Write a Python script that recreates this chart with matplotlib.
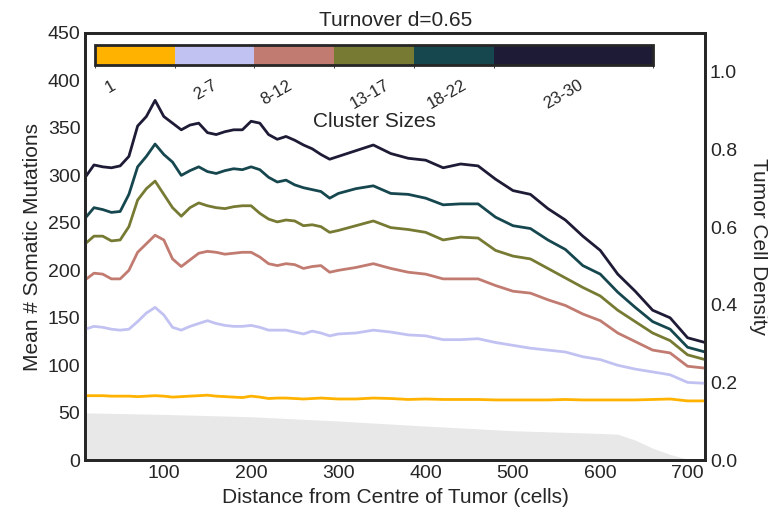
import matplotlib
matplotlib.use("Agg")
import matplotlib.pyplot as plt
import seaborn as sns
import numpy as np
from matplotlib.colors import ListedColormap, BoundaryNorm
from matplotlib.cm import ScalarMappable

sns.set_style("white")
plt.rcParams['font.family'] = ['Liberation Sans', 'DejaVu Sans']
plt.rcParams['text.color'] = '#262626'
plt.rcParams['axes.labelcolor'] = '#262626'
plt.rcParams['xtick.color'] = '#262626'
plt.rcParams['ytick.color'] = '#262626'

# distance from the centre (cells)
distance = [10, 20, 30, 40, 50, 60, 70, 80, 90, 100, 110, 120, 130, 140, 150,
            160, 170, 180, 190, 200, 210, 220, 230, 240, 250, 260, 270, 280, 290, 300,
            320, 340, 360, 380, 400, 420, 440, 460, 480, 500, 520, 540, 560, 580, 600,
            620, 640, 660, 680, 700, 720]

# mean number of somatic mutations per cluster size group
size_1 = [68, 68, 68, 67.5, 67.5, 67.5, 67, 67.5, 68, 67.5, 66.5, 67, 67.5, 68, 68.5,
          67.5, 67, 66.5, 66, 67.5, 66.5, 65, 65.5, 65.5, 65, 64.5, 65, 65.5, 65, 64.5,
          64.5, 65.5, 65, 64, 64.5, 64, 64, 64, 63.5, 63.5, 63.5, 63.5, 64, 63.5, 63.5,
          63.5, 63.5, 64, 64.5, 62.5, 62.5]
size_2_7 = [138, 141, 140, 138, 137, 138, 146, 155, 161, 153, 140, 137, 141, 144, 147,
            144, 142, 141, 141, 142, 140, 137, 137, 137, 135, 133, 136, 134, 131, 133,
            134, 137, 135, 132, 131, 127, 127, 128, 124, 121, 118, 116, 114, 109, 106,
            100, 96, 93, 90, 82, 81]
size_8_12 = [190, 197, 196, 191, 191, 200, 219, 228, 237, 232, 212, 204, 211, 218, 220,
             219, 217, 218, 219, 219, 214, 207, 205, 207, 206, 202, 204, 205, 198, 200,
             203, 207, 202, 198, 196, 191, 191, 191, 184, 178, 176, 169, 163, 154, 147,
             134, 125, 116, 113, 99, 97]
size_13_17 = [228, 236, 236, 231, 232, 246, 274, 286, 294, 280, 266, 257, 266, 271, 268,
              266, 265, 267, 268, 268, 260, 254, 251, 253, 252, 247, 248, 246, 240, 242,
              247, 252, 245, 243, 240, 232, 235, 234, 221, 215, 212, 202, 192, 182, 173,
              158, 146, 134, 126, 111, 106]
size_18_22 = [255, 266, 264, 261, 262, 280, 309, 320, 333, 322, 314, 300, 305, 309, 304,
              302, 305, 307, 306, 309, 306, 298, 293, 295, 290, 287, 285, 283, 276, 281,
              286, 289, 281, 280, 276, 269, 270, 270, 256, 247, 244, 232, 222, 205, 196,
              177, 161, 146, 138, 119, 114]
size_23_30 = [298, 311, 309, 308, 310, 320, 352, 362, 379, 362, 355, 348, 353, 355, 345,
              343, 346, 348, 348, 357, 355, 343, 338, 341, 337, 332, 328, 322, 317, 320,
              326, 332, 323, 318, 316, 308, 312, 310, 296, 284, 280, 265, 253, 236, 221,
              196, 178, 158, 150, 129, 124]

# tumour cell density profile
density_x = [0, 10, 100, 200, 300, 400, 500, 600, 620, 640, 660, 680, 700, 720]
density = [0.123, 0.122, 0.118, 0.112, 0.101, 0.088, 0.076, 0.069, 0.067, 0.052,
           0.031, 0.015, 0.003, 0.0]

size_labels = ['1', '2-7', '8-12', '13-17', '18-22', '23-30']
colors = ['#FFB300', '#C2C2F2', '#C17B70', '#767A33', '#16474F', '#1D1B36']
series = [size_1, size_2_7, size_8_12, size_13_17, size_18_22, size_23_30]

fig = plt.figure(figsize=(7.68, 5.23), dpi=100)
ax = fig.add_axes([0.111, 0.120, 0.807, 0.817])
ax2 = ax.twinx()

ax2.fill_between(density_x, 0, density, color='#e8e8e8', lw=0)
ax2.set_ylim(0, 1.1)
ax2.set_yticks([0.0, 0.2, 0.4, 0.6, 0.8, 1.0])
ax2.set_ylabel('Tumor Cell Density', fontsize=15, rotation=270, labelpad=22)

for vals, c in zip(series, colors):
    ax.plot(distance, vals, color=c, lw=2)

ax.set_zorder(ax2.get_zorder() + 1)
ax.patch.set_visible(False)

ax.set_xlim(10, 720)
ax.set_ylim(0, 450)
ax.set_xticks([100, 200, 300, 400, 500, 600, 700])
ax.set_yticks(range(0, 451, 50))
ax.set_xlabel('Distance from Centre of Tumor (cells)', fontsize=15)
ax.set_ylabel('Mean # Somatic Mutations', fontsize=15)
ax.set_title('Turnover d=0.65', fontsize=15, pad=5)
for a in (ax, ax2):
    a.tick_params(labelsize=14, length=0)
    for s in a.spines.values():
        s.set_linewidth(2)
        s.set_color('#262626')

# colour key for the cluster size groups
cmap = ListedColormap(colors)
norm = BoundaryNorm([0, 1, 2, 3, 4, 5, 7], cmap.N)
cax = fig.add_axes([0.1237, 0.8757, 0.7266, 0.038])
cb = fig.colorbar(ScalarMappable(norm=norm, cmap=cmap), cax=cax,
                  orientation='horizontal', spacing='proportional')
cb.set_ticks([0.19, 1.38, 2.27, 3.45, 4.42, 5.88])
cb.set_ticklabels(size_labels)
cb.ax.tick_params(labelsize=12, length=0, pad=9, labelrotation=30)
cb.outline.set_linewidth(2)
cb.outline.set_edgecolor('#262626')
cb.set_label('Cluster Sizes', fontsize=15, labelpad=0)

fig.savefig('out.png', dpi=100)
